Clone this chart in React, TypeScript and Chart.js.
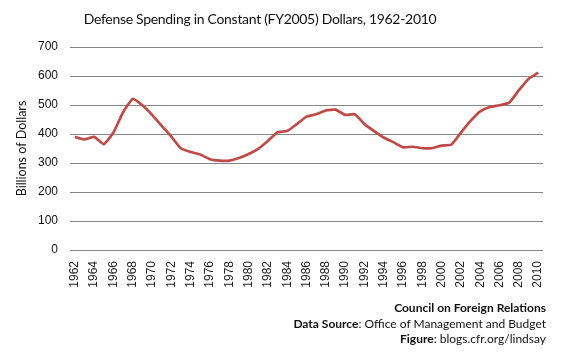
import React, { useEffect, useRef } from "react";
import { Chart, registerables } from "chart.js";

Chart.register(...registerables);

const years: string[] = [
  "1962","1963","1964","1965","1966","1967","1968","1969","1970","1971",
  "1972","1973","1974","1975","1976","1977","1978","1979","1980","1981",
  "1982","1983","1984","1985","1986","1987","1988","1989","1990","1991",
  "1992","1993","1994","1995","1996","1997","1998","1999","2000","2001",
  "2002","2003","2004","2005","2006","2007","2008","2009","2010",
];

const spending: number[] = [
  390, 381, 390, 365, 405, 475, 521, 499, 466, 428,
  391, 350, 338, 329, 313, 308, 308, 317, 331, 349,
  376, 406, 410, 434, 460, 468, 481, 484, 466, 468,
  434, 410, 388, 372, 354, 356, 351, 351, 360, 363,
  405, 445, 478, 493, 499, 508, 551, 590, 612,
];

const yTicks: number[] = [0, 100, 200, 300, 400, 500, 600, 700];

const titleText = "Defense Spending in Constant (FY2005) Dollars, 1962-2010";
const yAxisTitle = "Billions of Dollars";

export default function App() {
  const ref = useRef<HTMLCanvasElement | null>(null);

  useEffect(() => {
    if (!ref.current) return;
    const chart = new Chart(ref.current, {
      type: "line",
      data: {
        labels: years,
        datasets: [
          {
            data: spending,
            borderColor: "#BE4B48",
            borderWidth: 2.7,
            pointRadius: 0,
            tension: 0.15,
            fill: false,
          },
        ],
      },
      options: {
        animation: false,
        responsive: false,
        maintainAspectRatio: false,
        layout: { padding: { top: 47, right: 27, left: 0, bottom: 0 } },
        plugins: {
          legend: { display: false },
          tooltip: { enabled: false },
          title: { display: false },
        },
        scales: {
          x: {
            offset: true,
            grid: { display: false, drawTicks: false },
            border: { display: false },
            ticks: {
              autoSkip: false,
              maxRotation: 90,
              minRotation: 90,
              padding: 11,
              color: "#222",
              font: { family: "Liberation Sans, Arial", size: 12 },
              callback: (_v: any, i: number) => (i % 2 === 0 ? years[i] : ""),
            },
            afterFit: (s: any) => {
              s.height = 102;
            },
          },
          y: {
            min: yTicks[0],
            max: yTicks[yTicks.length - 1],
            grid: { color: "#888888", lineWidth: 1, drawTicks: false },
            border: { display: false },
            ticks: {
              stepSize: 100,
              padding: 12,
              color: "#111",
              font: { family: "Liberation Sans, Arial", size: 12 },
            },
            title: {
              display: true,
              text: yAxisTitle,
              color: "#111",
              font: { family: "Lato, Open Sans", size: 12.5 },
              padding: { top: 14, bottom: 0 },
            },
            afterFit: (s: any) => {
              s.width = 70;
            },
          },
        },
      },
    });
    return () => chart.destroy();
  }, []);

  const bold: React.CSSProperties = { fontWeight: 700 };

  return (
    <div
      style={{
        position: "fixed",
        left: 0,
        top: 0,
        width: 570,
        height: 352,
        background: "#fff",
        fontFamily: "Lato, 'Open Sans', sans-serif",
        color: "#111",
      }}
    >
      <canvas ref={ref} width={570} height={352} style={{ position: "absolute", left: 0, top: 0 }} />
      <div
        style={{
          position: "absolute",
          top: 9,
          left: 0,
          width: 520,
          textAlign: "center",
          fontSize: 14,
          letterSpacing: "-0.3px",
          lineHeight: "20px",
          whiteSpace: "nowrap",
        }}
      >
        {titleText}
      </div>
      <div
        style={{
          position: "absolute",
          right: 24,
          top: 300,
          textAlign: "right",
          fontSize: 12,
          lineHeight: "15.5px",
          whiteSpace: "nowrap",
        }}
      >
        <div style={bold}>Council on Foreign Relations</div>
        <div>
          <span style={bold}>Data Source</span>: Office of Management and Budget
        </div>
        <div>
          <span style={bold}>Figure</span>: blogs.cfr.org/lindsay
        </div>
      </div>
    </div>
  );
}
